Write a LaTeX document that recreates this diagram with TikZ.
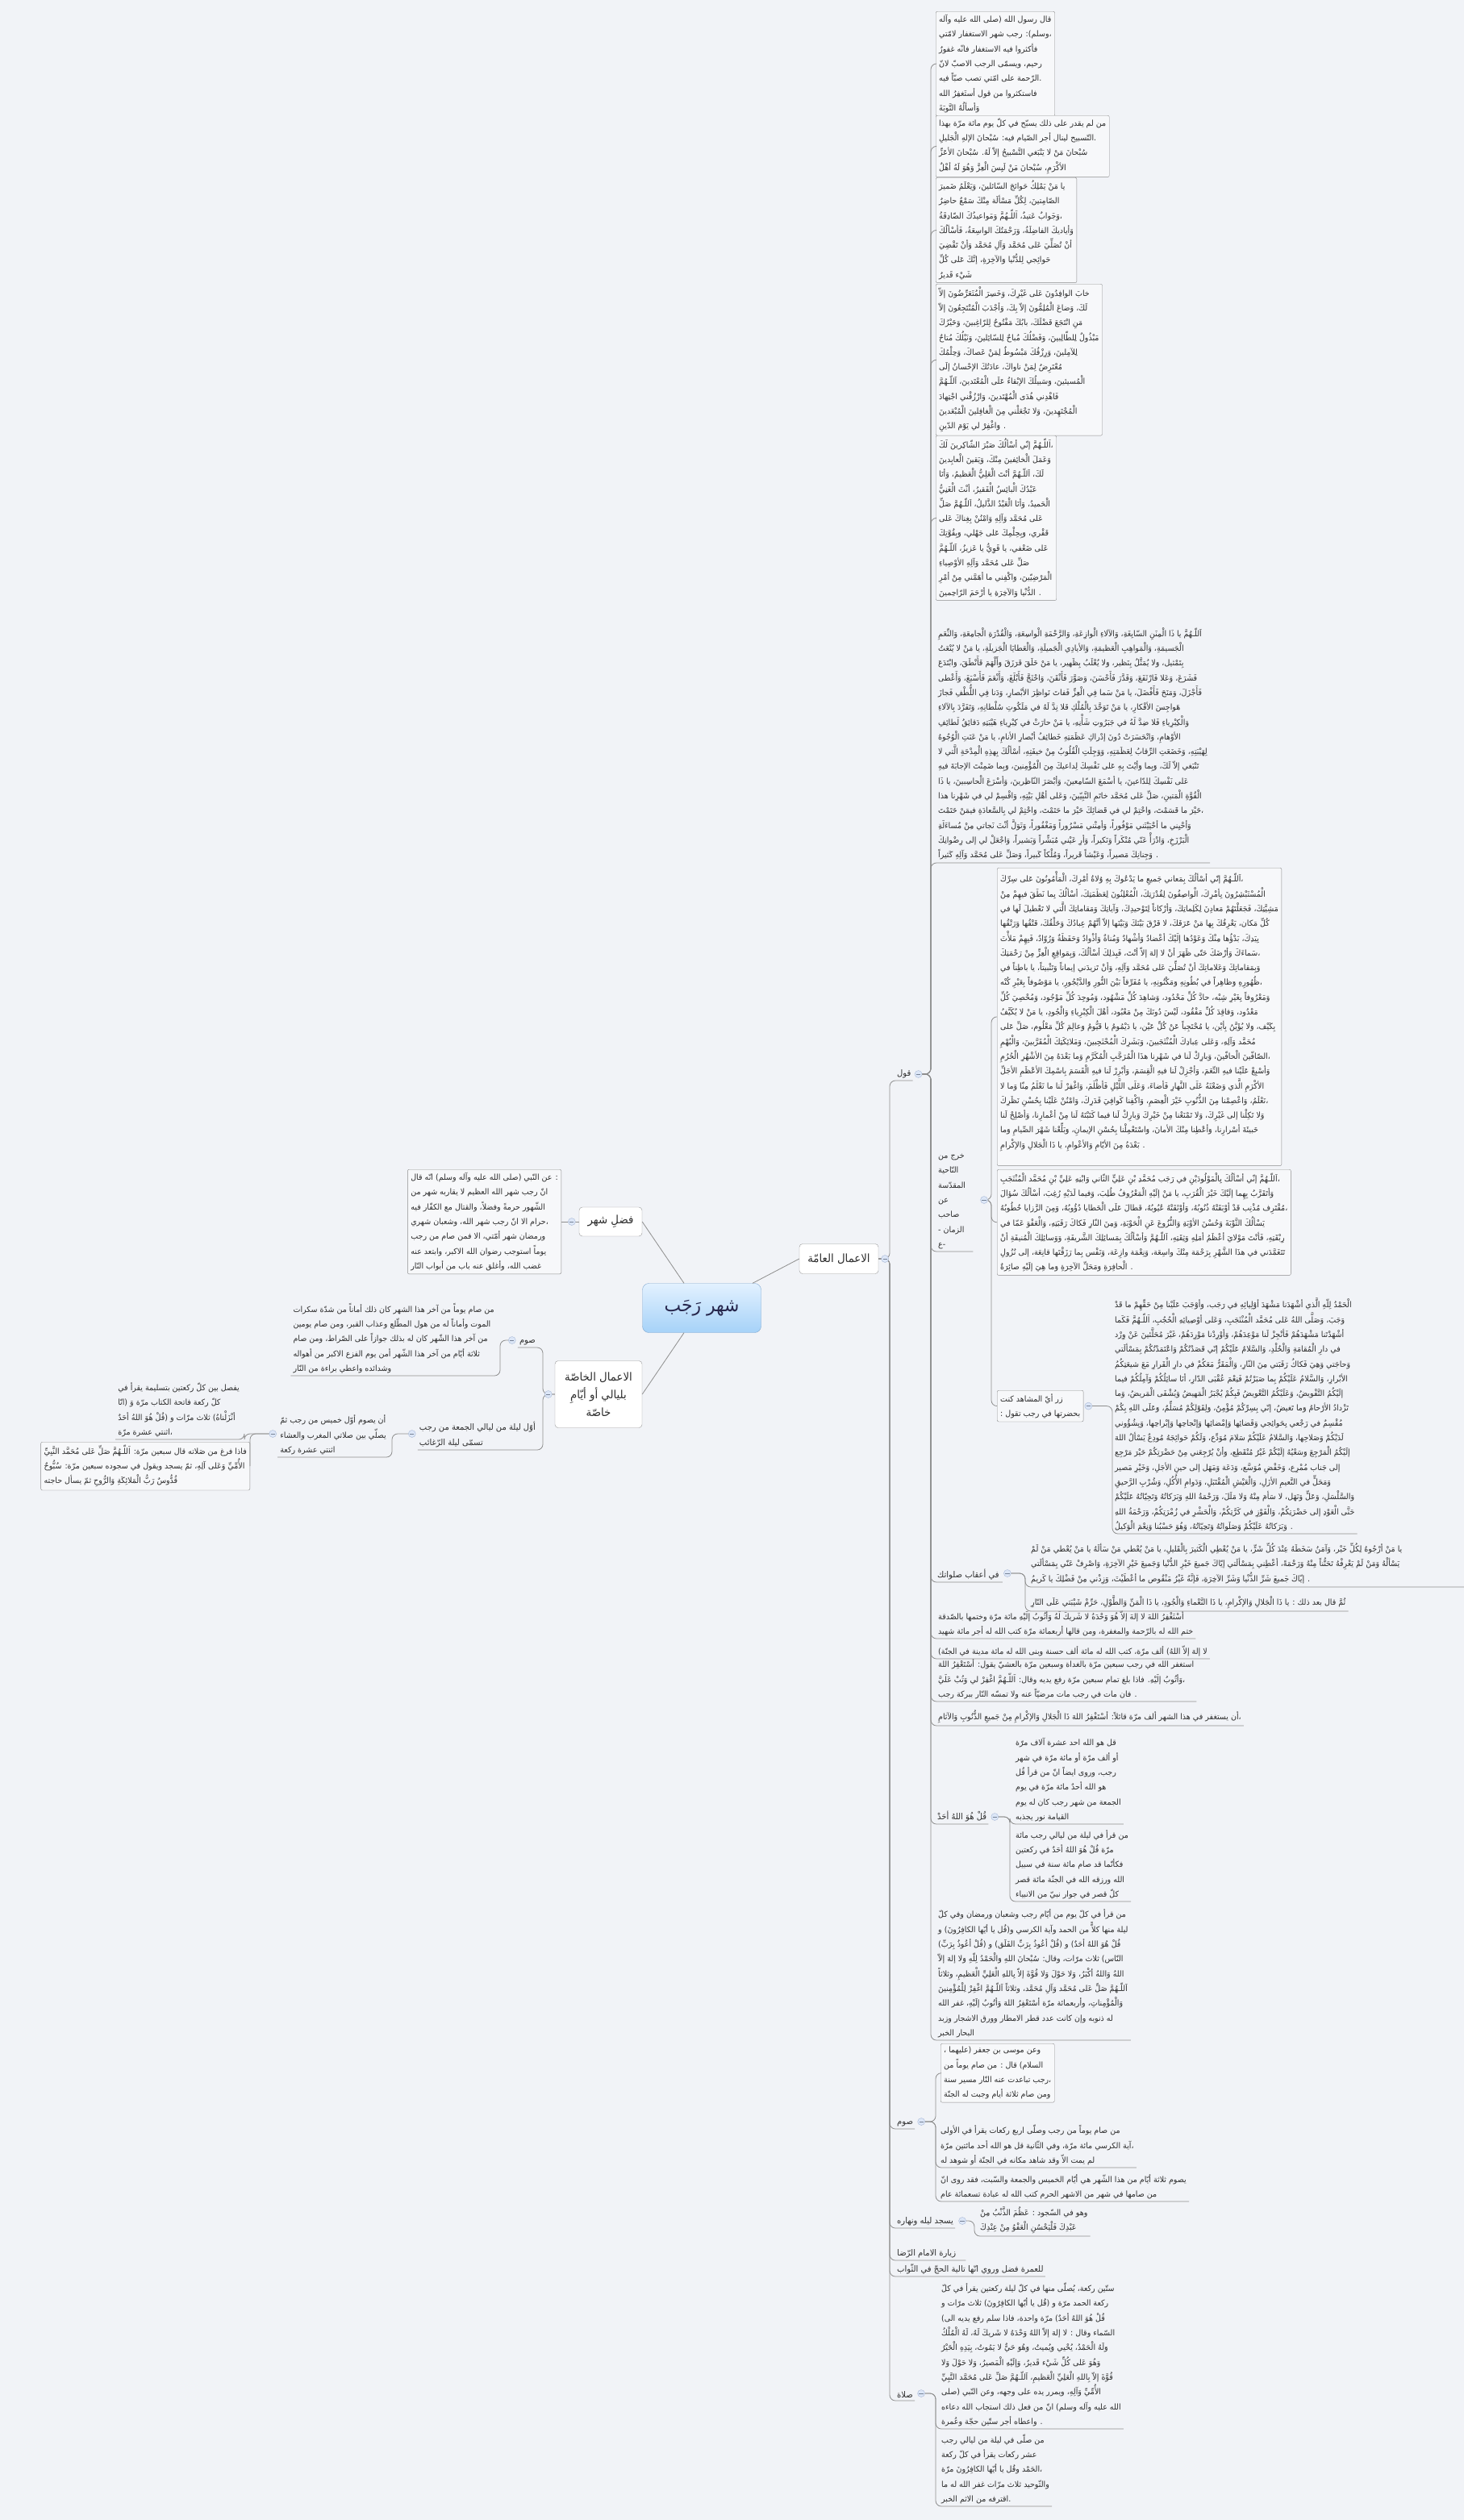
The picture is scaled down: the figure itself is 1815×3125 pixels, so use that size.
\documentclass[tikz,border=0pt]{standalone}
\usepackage{fontspec}
\newfontfamily\arabicfont[Script=Arabic,FakeStretch=0.95]{DejaVu Sans}
\TeXXeTstate=1
\newcommand{\ar}[1]{\beginR#1\endR}
\definecolor{bgc}{HTML}{F1F3F7}
\definecolor{lnc}{HTML}{8E8E8E}
\definecolor{txc}{HTML}{2E2E2E}
\definecolor{boxd}{HTML}{8A8A8A}
\definecolor{boxf}{HTML}{F7F8FA}
\definecolor{maind}{HTML}{9A9A9A}
\definecolor{rootd}{HTML}{7FA6CE}
\definecolor{roott}{HTML}{E2F1FF}
\definecolor{rootb}{HTML}{A6D2F8}
\definecolor{knd}{HTML}{A9B9D6}
\definecolor{knf}{HTML}{DCE6F7}

\begin{document}
\begin{tikzpicture}[
        x=1pt, y=-1pt,
        txt/.style={
            font=\arabicfont\fontsize{10}{18.3}\selectfont,
            text=txc,
            align=left,
            inner xsep=3,
            inner ysep=3
        },
        box/.style={
            txt,
            draw=boxd,
            fill=boxf,
            rounded corners=2,
            inner xsep=4,
            inner ysep=4
        },
        lbl/.style={
            txt,
            font=\arabicfont\fontsize{10.5}{18.3}\selectfont,
            inner xsep=2
        },
        topic/.style={
            draw=maind,
            fill=white,
            rounded corners=4,
            font=\arabicfont\fontsize{14}{22}\selectfont,
            text=txc,
            align=center,
            inner sep=0
        },
        conn/.style={
            draw=lnc,
            line width=0.8,
            rounded corners=7
        },
        knob/.style={
            circle,
            draw=knd,
            fill=knf,
            minimum size=9,
            inner sep=0,
            path picture={\draw[knd!70!black, line width=0.7]
                ([xshift=-2.6]path picture bounding box.center) --
                ([xshift=2.6]path picture bounding box.center);}
        }
    ]
        \fill[bgc] (0,0) rectangle (1815,3125);
        \useasboundingbox (0,0) rectangle (1815,3125);
        \coordinate (edgeR) at (1815,0);

        % centre
        \node (root) [draw=rootd, top color=roott, bottom color=rootb, rounded corners=8, minimum width=147, minimum height=61, font=\arabicfont\fontsize{23}{28}\selectfont, text=txc!85!blue] at (870,1622) {\ar{شهر رَجَب}};
        \node (fadl) [topic, minimum width=78, minimum height=36] at (757,1515) {\ar{فضلِ شهر}};
        \node (amma) [topic, minimum width=98, minimum height=37] at (1040,1561) {\ar{الاعمال العامّة}};
        \node (khassa) [topic, minimum width=108, minimum height=83] at (742,1729) {\ar{الاعمال الخاصّة}\\\ar{بليالي أو أيّامِ}\\\ar{خاصّة}};

        % left side
        \node (nabi) [box, anchor=east] at (696,1515) {\ar{: عن النّبي (صلى الله عليه وآله وسلم) انّه قال}\\\ar{انّ رجب شهر الله العظيم لا يقاربه شهر من}\\\ar{الشّهور حرمةً وفضلاً، والقتال مع الكفّار فيه}\\\ar{،حرام الا انّ رجب شهر الله، وشعبان شهري}\\\ar{ورمضان شهر أمّتي، الا فمن صام من رجب}\\\ar{يوماً استوجب رضوان الله الاكبر، وابتعد عنه}\\\ar{غضب الله، وأغلق عنه باب من أبواب النّار}};
        \node (sawmL) [lbl, anchor=south east] at (666,1671) {\ar{صوم}};
        \node (sawmLt) [txt, anchor=south east] at (616,1706) {\ar{من صام يوماً من آخر هذا الشهر كان ذلك أماناً من شدّة سكرات}\\\ar{الموت وأماناً له من هول المطّلع وعذاب القبر، ومن صام يومين}\\\ar{من آخر هذا الشّهر كان له بذلك جوازاً على الصّراط، ومن صام}\\\ar{ثلاثة أيّام من آخر هذا الشّهر أمن يوم الفزع الاكبر من أهواله}\\\ar{وشدائده واعطي براءة من النّار}};
        \node (layla) [lbl, anchor=south east] at (666,1798) {\ar{أوّل ليلة من ليالي الجمعة من رجب}\\\ar{تسمّى ليلة الرّغائب}};
        \node (yasum) [txt, anchor=south east] at (482,1807) {\ar{أن يصوم أوّل خميس من رجب ثمّ}\\\ar{يصلّي بين صلاتي المغرب والعشاء}\\\ar{اثنتي عشرة ركعة}};
        \node (yafsil) [txt, anchor=south east] at (300,1785) {\ar{يفصل بين كلّ ركعتين بتسليمة يقرأ في}\\\ar{كلّ ركعة فاتحة الكتاب مرّة وَ (انّا}\\\ar{أنْزَلْناهُ) ثلاث مرّات و (قُلْ هُوَ اللهُ أحَدٌ}\\\ar{،اثنتي عشرة مرّة}};
        \node (faidha) [box, anchor=north east] at (310,1788) {\ar{فاذا فرغ من صَلاته قال سبعين مرّة: اَللّـهُمَّ صَلِّ عَلى مُحَمَّد النَّبِيِّ}\\\ar{الأُمِّيِّ وَعَلى آلِهِ، ثمّ يسجد ويقول في سجوده سبعين مرّة: سُبُّوحٌ}\\\ar{قُدُّوسٌ رَبُّ الْمَلائِكَةِ وَالرُّوحِ ثمّ يسأل حاجته}};

        % right trunk labels
        \node (qawl) [lbl, anchor=south west] at (1110,1340) {\ar{قول}};
        \node (sawmR) [lbl, anchor=south west] at (1110,2640) {\ar{صوم}};
        \node (sujud) [lbl, anchor=south west] at (1110,2763) {\ar{يسجد ليله ونهاره}};
        \node (ziyara) [lbl, anchor=south west] at (1110,2803) {\ar{زيارة الامام الرّضا}};
        \node (umra) [lbl, anchor=south west] at (1110,2823) {\ar{للعمرة  فضل وروي انّها تالية الحجّ في الثّواب}};
        \node (salat) [lbl, anchor=south west] at (1110,2977) {\ar{صلاة}};

        % qawl
        \node (hadith) [box, anchor=north west] at (1160,14) {\ar{قال رسول الله (صلى الله عليه وآله}\\\ar{،وسلم): رجب شهر الاستغفار لامّتي}\\\ar{فأكثروا فيه الاستغفار فانّه غفورٌ}\\\ar{رحيم، ويسمّى الرجب الاصبّ لانّ}\\\ar{.الرّحمة على امّتي تصب صبّاً فيه}\\\ar{فاستكثروا من قول أستَغفِرُ الله}\\\ar{وَأسألُهُ التَّوبَةَ}};
        \node (tasbih) [box, anchor=north west] at (1160,143) {\ar{من لم يقدر على ذلك يسبّح في كلّ يوم مائة مرّة بهذا}\\\ar{.التّسبيح لينال أجر الصّيام فيه: سُبْحانَ الإلهِ الْجَليلِ}\\\ar{سُبْحانَ مَنْ لا يَنْبَغي التَّسْبيحُ إلاّ لَهُ. سُبْحانَ الأعَزِّ}\\\ar{الأكْرَمِ، سُبْحانَ مَنْ لَبِسَ الْعِزَّ وَهُوَ لَهُ أهْلٌ}};
        \node (yaman) [box, anchor=north west] at (1160,220) {\ar{يا مَنْ يَمْلِكُ حَوائجَ السّائلينَ، وَيَعْلَمُ ضَميرَ}\\\ar{الصّامِتينَ، لِكُلِّ مَسْألَة مِنْكَ سَمْعٌ حاضِرٌ}\\\ar{،وَجَوابٌ عَتيدٌ، اَللّـهُمَّ وَمَواعيدُكَ الصّادِقَةُ}\\\ar{وَأياديكَ الفاضِلَةُ، وَرَحْمَتُكَ الواسِعَةُ، فَأسْألُكَ}\\\ar{أنْ تُصَلِّيَ عَلى مُحَمَّد وَآلِ مُحَمَّد وَأنْ تَقْضِيَ}\\\ar{حَوائِجي لِلدُّنْيا وَالآخِرَةِ، إنَّكَ عَلى كُلِّ}\\\ar{شَيْء قَديرٌ}};
        \node (khaba) [box, anchor=north west] at (1160,352) {\ar{خابَ الوافِدُونَ عَلى غَيْرِكَ، وَخَسِرَ الْمُتَعَرِّضُونَ إلاّ}\\\ar{لَكَ، وَضاعَ الْمُلِمُّونَ إلاّ بِكَ، وَأجْدَبَ الْمُنْتَجِعُونَ إلاّ}\\\ar{مَنِ انْتَجَعَ فَضْلَكَ، بابُكَ مَفْتُوحٌ لِلرّاغِبينَ، وَخَيْرُكَ}\\\ar{مَبْذُولٌ لِلطّالِبينَ، وَفَضْلُكَ مُباحٌ لِلسّائِلينَ، وَنَيْلُكَ مُتاحٌ}\\\ar{لِلآمِلينَ، وَرِزْقُكَ مَبْسُوطٌ لِمَنْ عَصاكَ، وَحِلْمُكَ}\\\ar{مُعْتَرِضٌ لِمَنْ ناواكَ، عادَتُكَ الإحْسانُ إلَى}\\\ar{الْمُسيئينَ، وَسَبيلُكَ الإبْقاءُ عَلَى الْمُعْتَدينَ، اَللّـهُمَّ}\\\ar{فَاهْدِني هُدَى الْمُهْتَدينَ، وَارْزُقْني اجْتِهادَ}\\\ar{الْمُجْتَهِدينَ، وَلا تَجْعَلْني مِنَ الْغافِلينَ الْمُبْعَدينَ}\\\ar{. وَاغْفِرْ لي يَوْمَ الدّينِ}};
        \node (sabr) [box, anchor=north west] at (1160,540) {\ar{،اَللّـهُمَّ إنّي أسْألُكَ صَبْرَ الشّاكِرينَ لَكَ}\\\ar{وَعَمَلَ الْخائِفينَ مِنْكَ، وَيَقينَ الْعابِدينَ}\\\ar{لَكَ، اَللّـهُمَّ أنْتَ الْعَلِيُّ الْعَظيمُ، وَأنَا}\\\ar{عَبْدُكَ الْبائِسُ الْفَقيرُ، أنْتَ الْغَنِيُّ}\\\ar{الْحَميدُ، وَأنَا الْعَبْدُ الذَّليلُ، اَللّـهُمَّ صَلِّ}\\\ar{عَلى مُحَمَّد وَآلِهِ وَامْنُنْ بِغِناكَ عَلى}\\\ar{فَقْري، وَبِحِلْمِكَ عَلى جَهْلي، وَبِقُوَّتِكَ}\\\ar{عَلى ضَعْفي، يا قَوِيُّ يا عَزيزُ، اَللّـهُمَّ}\\\ar{صَلِّ عَلى مُحَمَّد وَآلِهِ الأوْصِياءِ}\\\ar{الْمَرْضِيّينَ، وَاكْفِني ما أهَمَّني مِنْ أمْرِ}\\\ar{. الدُّنْيا وَالآخِرَةِ يا أرْحَمَ الرّاحِمينَ}};
        \node (minan) [txt, anchor=south west] at (1160,1070) {\ar{اَللّـهُمَّ يا ذَا الْمِنَنِ السّابِغَةِ، وَالآلاءِ الْوازِعَةِ، وَالرَّحْمَةِ الْواسِعَةِ، وَالْقُدْرَةِ الْجامِعَةِ، وَالنِّعَمِ}\\\ar{الْجَسيمَةِ، وَالْمَواهِبِ الْعَظيمَةِ، وَالأيادِي الْجَميلَةِ، وَالْعَطايَا الْجَزيلَةِ، يا مَنْ لا يُنْعَتُ}\\\ar{بِتَمْثيل، وَلا يُمَثَّلُ بِنَظير، وَلا يُغْلَبُ بِظَهير، يا مَنْ خَلَقَ فَرَزَقَ وَأَلْهَمَ فَأَنْطَقَ، وَابْتَدَعَ}\\\ar{فَشَرَعَ، وَعَلا فَارْتَفَعَ، وَقَدَّرَ فَأَحْسَنَ، وَصَوَّرَ فَأَتْقَنَ، وَاحْتَجَّ فَأَبْلَغَ، وَأَنْعَمَ فَأَسْبَغَ، وَأَعْطى}\\\ar{فَأَجْزَلَ، وَمَنَحَ فَأَفْضَلَ، يا مَنْ سَما فِي الْعِزِّ فَفاتَ نَواظِرَ الأبْصارِ، وَدَنا فِي اللُّطْفِ فَجازَ}\\\ar{هَواجِسَ الأفْكارِ، يا مَنْ تَوَحَّدَ بِالْمُلْكِ فَلا نِدَّ لَهُ في مَلَكُوتِ سُلْطانِهِ، وَتَفَرَّدَ بِالآلاءِ}\\\ar{وَالْكِبْرِياءِ فَلا ضِدَّ لَهُ في جَبَرُوتِ شَأْنِهِ، يا مَنْ حارَتْ في كِبْرِياءِ هَيْبَتِهِ دَقائِقُ لَطائِفِ}\\\ar{الأوْهامِ، وَانْحَسَرَتْ دُونَ إدْراكِ عَظَمَتِهِ خَطائِفُ أبْصارِ الأنامِ، يا مَنْ عَنَتِ الْوُجُوهُ}\\\ar{لِهَيْبَتِهِ، وَخَضَعَتِ الرِّقابُ لِعَظَمَتِهِ، وَوَجِلَتِ الْقُلُوبُ مِنْ خيفَتِهِ، أسْألُكَ بِهذِهِ الْمِدْحَةِ الَّتي لا}\\\ar{تَنْبَغي إلاّ لَكَ، وَبِما وَأيْتَ بِهِ عَلى نَفْسِكَ لِداعيكَ مِنَ الْمُؤْمِنينَ، وَبِما ضَمِنْتَ الإجابَةَ فيهِ}\\\ar{عَلى نَفْسِكَ لِلدّاعينَ، يا أسْمَعَ السّامِعينَ، وَأبْصَرَ النّاظِرينَ، وَأسْرَعَ الْحاسِبينَ، يا ذَا}\\\ar{الْقُوَّةِ الْمَتينِ، صَلِّ عَلى مُحَمَّد خاتَمِ النَّبِيّينَ، وَعَلى أهْلِ بَيْتِهِ، وَاقْسِمْ لي في شَهْرِنا هذا}\\\ar{،خَيْرَ ما قَسَمْتَ، وَاحْتِمْ لي في قَضائِكَ خَيْرَ ما حَتَمْتَ، وَاخْتِمْ لي بِالسَّعادَةِ فيمَنْ خَتَمْتَ}\\\ar{وَأحْيِني ما أحْيَيْتَني مَوْفُوراً، وَأمِتْني مَسْرُوراً وَمَغْفُوراً، وَتَوَلَّ أنْتَ نَجاتي مِنْ مُساءَلَةِ}\\\ar{الْبَرْزَخِ، وَادْرَأْ عَنّي مُنْكَراً وَنَكيراً، وَأرِ عَيْني مُبَشِّراً وَبَشيراً، وَاجْعَلْ لي إلى رِضْوانِكَ}\\\ar{. وَجِنانِكَ مَصيراً، وَعَيْشاً قَريراً، وَمُلْكاً كَبيراً، وَصَلِّ عَلى مُحَمَّد وَآلِهِ كَثيراً}};
        \node (kharaj) [txt, anchor=south west] at (1160,1552) {\ar{خرج من}\\\ar{النّاحية}\\\ar{المقدّسة}\\\ar{عن}\\\ar{صاحب}\\\ar{الزمان -}\\\ar{-ع}};
        \node (mani) [box, anchor=north west] at (1236,1076) {\ar{،اَللّـهُمَّ إنّي أسْألُكَ بِمَعاني جَميعِ ما يَدْعُوكَ بِهِ وُلاةُ أمْرِكَ، الْمَأْمُونُونَ عَلى سِرِّكَ}\\\ar{الْمُسْتَبْشِرُونَ بِأمْرِكَ، الْواصِفُونَ لِقُدْرَتِكَ، الْمُعْلِنُونَ لِعَظَمَتِكَ، أسْألُكَ بِما نَطَقَ فيهِمْ مِنْ}\\\ar{مَشِيَّتِكَ، فَجَعَلْتَهُمْ مَعادِنَ لِكَلِماتِكَ، وَأرْكاناً لِتَوْحيدِكَ، وَآياتِكَ وَمَقاماتِكَ الَّتي لا تَعْطيلَ لَها في}\\\ar{كُلِّ مَكان، يَعْرِفُكَ بِها مَنْ عَرَفَكَ، لا فَرْقَ بَيْنَكَ وَبَيْنَها إلاّ أنَّهُمْ عِبادُكَ وَخَلْقُكَ، فَتْقُها وَرَتْقُها}\\\ar{بِيَدِكَ، بَدْؤُها مِنْكَ وَعَوْدُها إلَيْكَ أعْضادٌ وَأشْهادٌ وَمُناةٌ وَأذْوادٌ وَحَفَظَةٌ وَرُوّادٌ، فَبِهِمْ مَلأْتَ}\\\ar{،سَماءَكَ وَأرْضَكَ حَتّى ظَهَرَ أنْ لا إلهَ إلاّ أنْتَ، فَبِذلِكَ أسْألُكَ، وَبِمَواقِعِ الْعِزِّ مِنْ رَحْمَتِكَ}\\\ar{وَبِمَقاماتِكَ وَعَلاماتِكَ أنْ تُصَلِّيَ عَلى مُحَمَّد وَآلِهِ، وَأنْ تَزيدَني إيماناً وَتَثْبيتاً، يا باطِناً في}\\\ar{،ظُهُورِهِ وَظاهِراً في بُطُونِهِ وَمَكْنُونِهِ، يا مُفَرِّقاً بَيْنَ النُّورِ وَالدَّيْجُورِ، يا مَوْصُوفاً بِغَيْرِ كُنْه}\\\ar{وَمَعْرُوفاً بِغَيْرِ شِبْه، حادَّ كُلِّ مَحْدُود، وَشاهِدَ كُلِّ مَشْهُود، وَمُوجِدَ كُلِّ مَوْجُود، وَمُحْصِيَ كُلِّ}\\\ar{مَعْدُود، وَفاقِدَ كُلِّ مَفْقُود، لَيْسَ دُونَكَ مِنْ مَعْبُود، أهْلَ الْكِبْرِياءِ وَالْجُودِ، يا مَنْ لا يُكَيَّفُ}\\\ar{بِكَيْف، وَلا يُؤَيَّنُ بِأيْن، يا مُحْتَجِباً عَنْ كُلِّ عَيْن، يا دَيْمُومُ يا قَيُّومُ وَعالِمَ كُلِّ مَعْلُوم، صَلِّ عَلى}\\\ar{مُحَمَّد وَآلِهِ، وَعَلى عِبادِكَ الْمُنْتَجَبينَ، وَبَشَرِكَ الْمُحْتَجِبينَ، وَمَلائِكَتِكَ الْمُقَرَّبينَ، وَالْبُهْمِ}\\\ar{،الصّافّينَ الْحافّينَ، وَبارِكْ لَنا في شَهْرِنا هذَا الْمُرَجَّبِ الْمُكَرَّمِ وَما بَعْدَهُ مِنَ الأشْهُرِ الْحُرُمِ}\\\ar{وَأسْبِغْ عَلَيْنا فيهِ النِّعَمَ، وَأجْزِلْ لَنا فيهِ الْقِسَمَ، وَأبْرِرْ لَنا فيهِ الْقَسَمَ بِاسْمِكَ الأعْظَمِ الأجَلِّ}\\\ar{الأكْرَمِ الَّذي وَضَعْتَهُ عَلَى النَّهارِ فَأضاءَ، وَعَلَى اللَّيْلِ فَأظْلَمَ، وَاغْفِرْ لَنا ما تَعْلَمُ مِنّا وَما لا}\\\ar{،نَعْلَمُ، وَاعْصِمْنا مِنَ الذُّنُوبِ خَيْرَ الْعِصَمِ، وَاكْفِنا كَوافِيَ قَدَرِكَ، وَامْنُنْ عَلَيْنا بِحُسْنِ نَظَرِكَ}\\\ar{وَلا تَكِلْنا إلى غَيْرِكَ، وَلا تَمْنَعْنا مِنْ خَيْرِكَ وَبارِكْ لَنا فيما كَتَبْتَهُ لَنا مِنْ أعْمارِنا، وَأصْلِحْ لَنا}\\\ar{خَبيئَةَ أسْرارِنا، وَأعْطِنا مِنْكَ الأمانَ، وَاسْتَعْمِلْنا بِحُسْنِ الإيمانِ، وَبَلِّغْنا شَهْرَ الصِّيامِ وَما}\\\ar{. بَعْدَهُ مِنَ الأيّامِ وَالأعْوامِ، يا ذَا الْجَلالِ وَالإكْرامِ}\\ \mbox{}};
        \node (mawlud) [box, anchor=north west] at (1236,1450) {\ar{،اَللّـهُمَّ إنّي أسْألُكَ بِالْمَوْلُودَيْنِ في رَجَب مُحَمَّدِ بْنِ عَلِيٍّ الثّاني وَابْنِهِ عَلِيِّ بْنِ مُحَمَّد الْمُنْتَجَبِ}\\\ar{وَأتَقَرَّبُ بِهِما إلَيْكَ خَيْرَ الْقُرَبِ، يا مَنْ إلَيْهِ الْمَعْرُوفُ طُلِبَ، وَفيما لَدَيْهِ رُغِبَ، أسْألُكَ سُؤالَ}\\\ar{،مُقْتَرِف مُذْنِب قَدْ أوْبَقَتْهُ ذُنُوبُهُ، وَأوْثَقَتْهُ عُيُوبُهُ، فَطالَ عَلَى الْخَطايا دُؤُوبُهُ، وَمِنَ الرَّزايا خُطُوبُهُ}\\\ar{يَسْألُكَ التَّوْبَةَ وَحُسْنَ الأوْبَةِ وَالنُّزُوعَ عَنِ الْحَوْبَةِ، وَمِنَ النّارِ فَكاكَ رَقَبَتِهِ، وَالْعَفْوَ عَمّا في}\\\ar{رِبْقَتِهِ، فَأنْتَ مَوْلايَ أعْظَمُ أمَلِهِ وَثِقَتِهِ، اَللّـهُمَّ وَأسْألُكَ بِمَسائِلِكَ الشَّريفَةِ، وَوَسائِلِكَ الْمُنيفَةِ أنْ}\\\ar{تَتَغَمَّدَني في هذَا الشَّهْرِ بِرَحْمَة مِنْكَ واسِعَة، وَنِعْمَة وازِعَة، وَنَفْس بِما رَزَقْتَها قانِعَة، إلى نُزُولِ}\\\ar{. الْحافِرَةِ وَمَحَلِّ الآخِرَةِ وَما هِيَ إلَيْهِ صائِرَةٌ}};
        \node (zar) [box, anchor=north west] at (1236,1724) {\ar{زر أيّ المشاهد كنت}\\\ar{بحضرتها في رجب تقول :}};
        \node (hamd) [txt, anchor=south west] at (1379,1902) {\ar{الْحَمْدُ لِلّهِ الَّذي أشْهَدَنا مَشْهَدَ أوْلِيائِهِ في رَجَب، وَأوْجَبَ عَلَيْنا مِنْ حَقِّهِمْ ما قَدْ}\\\ar{وَجَبَ، وَصَلَّى اللهُ عَلى مُحَمَّد الْمُنْتَجَبِ، وَعَلى أوْصِيائِهِ الْحُجُبِ، اَللّـهُمَّ فَكَما}\\\ar{أشْهَدْتَنا مَشْهَدَهُمْ فَأنْجِزْ لَنا مَوْعِدَهُمْ، وَأوْرِدْنا مَوْرِدَهُمْ، غَيْرَ مُحَلَّئينَ عَنْ وِرْد}\\\ar{في دارِ الْمُقامَةِ وَالْخُلْدِ، وَالسَّلامُ عَلَيْكُمْ إنّي قَصَدْتُكُمْ وَاعْتَمَدْتُكُمْ بِمَسْألَتي}\\\ar{وَحاجَتي وَهِيَ فَكاكُ رَقَبَتي مِنَ النّارِ، وَالْمَقَرُّ مَعَكُمْ في دارِ الْقَرارِ مَعَ شيعَتِكُمُ}\\\ar{الأبْرارِ، وَالسَّلامُ عَلَيْكُمْ بِما صَبَرْتُمْ فَنِعْمَ عُقْبَى الدّارِ، أنَا سائِلُكُمْ وَآمِلُكُمْ فيما}\\\ar{إلَيْكُمُ التَّفْويضُ، وَعَلَيْكُمُ التَّعْويضُ فَبِكُمْ يُجْبَرُ الْمَهيضُ وَيُشْفَى الْمَريضُ، وَما}\\\ar{تَزْدادُ الأرْحامُ وَما تَغيضُ، إنّي بِسِرِّكُمْ مُؤْمِنٌ، وَلِقَوْلِكُمْ مُسَلِّمٌ، وَعَلَى اللهِ بِكُمْ}\\\ar{مُقْسِمٌ في رَجْعي بِحَوائِجي وَقَضائِها وَإمْضائِها وَإنْجاحِها وَإبْراحِها، وَبِشُؤُوني}\\\ar{لَدَيْكُمْ وَصَلاحِها، وَالسَّلامُ عَلَيْكُمْ سَلامَ مُوَدِّع، وَلَكُمْ حَوائِجَهُ مُودِعٌ يَسْألُ اللهَ}\\\ar{إلَيْكُمُ الْمَرْجِعَ وَسَعْيُهُ إلَيْكُمْ غَيْرُ مُنْقَطِع، وَأنْ يُرْجِعَني مِنْ حَضْرَتِكُمْ خَيْرَ مَرْجِع}\\\ar{إلى جَناب مُمْرِع، وَخَفْضِ مُوَسَّع، وَدَعَة وَمَهَل إلى حينِ الأجَلِ، وَخَيْرِ مَصير}\\\ar{وَمَحَلٍّ في النَّعيمِ الأزَلِ، وَالْعَيْشِ الْمُقْتَبَلِ، وَدَوامِ الأُكُلِ، وَشُرْبِ الرَّحيقِ}\\\ar{وَالسَّلْسَلِ، وَعَلٍّ وَنَهَل، لا سَأمَ مِنْهُ وَلا مَلَلَ، وَرَحْمَةُ اللهِ وَبَرَكاتُهُ وَتَحِيّاتُهُ عَلَيْكُمْ}\\\ar{حَتَّى الْعَوْدِ إلى حَضْرَتِكُمْ، وَالْفَوْزِ في كَرَّتِكُمْ، وَالْحَشْرِ في زُمْرَتِكُمْ، وَرَحْمَةُ اللهِ}\\\ar{. وَبَرَكاتُهُ عَلَيْكُمْ وَصَلَواتُهُ وَتَحِيّاتُهُ، وَهُوَ حَسْبُنا وَنِعْمَ الْوَكيلُ}};
        \node (aqab) [lbl, anchor=south west] at (1160,1962) {\ar{في أعقاب صلواتك}};
        \node (arjuhu) [txt, anchor=south west] at (1275,1968) {\ar{يا مَنْ أرْجُوهُ لِكُلِّ خَيْر، وَآمَنُ سَخَطَهُ عِنْدَ كُلِّ شَرٍّ، يا مَنْ يُعْطِي الْكَثيرَ بِالْقَليلِ، يا مَنْ يُعْطي مَنْ سَألَهُ يا مَنْ يُعْطي مَنْ لَمْ}\\\ar{يَسْألْهُ وَمَنْ لَمْ يَعْرِفْهُ تَحَنُّناً مِنْهُ وَرَحْمَةً، أعْطِني بِمَسْألَتي إيّاكَ جَميعَ خَيْرِ الدُّنْيا وَجَميعَ خَيْرِ الآخِرَةِ، وَاصْرِفْ عَنّي بِمَسْألَتي}\\\ar{. إيّاكَ جَميعَ شَرِّ الدُّنْيا وَشَرِّ الآخِرَةِ، فَإنَّهُ غَيْرُ مَنْقُوص ما أعْطَيْتَ، وَزِدْني مِنْ فَضْلِكَ يا كَريمُ}};
        \node (thumma) [txt, anchor=south west] at (1275,1998) {\ar{ثُمَّ قال بعد ذلك : يا ذَا الْجَلالِ وَالإكْرامِ، يا ذَا النَّعْماءِ وَالْجُودِ، يا ذَا الْمَنِّ وَالطَّوْلِ، حَرِّمْ شَيْبَتي عَلَى النّارِ}};
        \node (istighfar) [txt, anchor=south west] at (1160,2032) {\ar{أسْتَغْفِرُ اللهَ لا إلهَ إلاّ هُوَ وَحْدَهُ لا شَريكَ لَهُ وَأتُوبُ إلَيْهِ مائة مرّة وختمها بالصّدقة}\\\ar{ختم الله له بالرّحمة والمغفرة، ومن قالها أربعمائة مرّة كتب الله له أجر مائة شهيد}};
        \node (tahlil) [txt, anchor=south west] at (1160,2057) {\ar{لا إلهَ إلاّ اللهُ) ألف مرّة، كتب الله له مائة ألف حسنة وبنى الله له مائة مدينة في الجنّة)}};
        \node (sabeen) [txt, anchor=south west] at (1160,2110) {\ar{استغفر الله في رجب سبعين مرّة بالغداة وسبعين مرّة بالعشيّ يقول: أسْتَغْفِرُ اللهَ}\\\ar{،وَأتُوبُ إلَيْهِ. فاذا بلغ تمام سبعين مرّة رفع يديه وقال: اَللّـهُمَّ اغْفِرْ لي وَتُبْ عَلَيَّ}\\\ar{. فان مات في رجب مات مرضيّاً عنه ولا تمسّه النّار ببركة رجب}};
        \node (alfmarra) [txt, anchor=south west] at (1160,2140) {\ar{،أن يستغفر في هذا الشهر ألف مرّة قائلاً: أسْتَغْفِرُ اللهَ ذَا الْجَلالِ وَالإكْرامِ مِنْ جَميعِ الذُّنُوبِ وَالآثامِ}};
        \node (ikhlas) [lbl, anchor=south west] at (1160,2262) {\ar{قُلْ هُوَ اللهُ أحَدْ}};
        \node (ikhlasa) [txt, anchor=south west] at (1256,2262) {\ar{قل هو الله احد عشرة آلاف مرّة}\\\ar{أو ألف مرّة أو مائة مرّة في شهر}\\\ar{رجب، وروى ايضاً انّ من قرأ قُل}\\\ar{هو الله أحدٌ مائة مرّة في يوم}\\\ar{الجمعة من شهر رجب كان له يوم}\\\ar{القيامة نور يجذبه}};
        \node (ikhlasb) [txt, anchor=south west] at (1256,2358) {\ar{من قرأ في ليلة من ليالي رجب مائة}\\\ar{مرّة قُلْ هُوَ اللهُ أحَدٌ في ركعتين}\\\ar{فكأنّما قد صام مائة سنة في سبيل}\\\ar{الله ورزقه الله في الجنّة مائة قصر}\\\ar{كلّ قصر في جوار نبيّ من الانبياء}};
        \node (qiraa) [txt, anchor=south west] at (1160,2530) {\ar{من قرأ في كلّ يوم من أيّام رجب وشعبان ورمضان وفي كلّ}\\\ar{ليلة منها كلاًّ من الحمد وآية الكرسي و(قُل يا أيّها الكافِرُونَ) و}\\\ar{قُلْ هُوَ اللهُ أحَدٌ) و (قُلْ أعُوذُ بِرَبِّ الفَلَق) و (قُلْ أعُوذُ بِرَبِّ)}\\\ar{النّاس) ثلاث مرّات، وقال: سُبْحانَ اللهِ وَالْحَمْدُ لِلّهِ وَلا إلهَ إلاّ}\\\ar{اللهُ وَاللهُ أكْبَرُ، وَلا حَوْلَ وَلا قُوَّةَ إلاّ بِاللهِ الْعَلِيِّ الْعَظيمِ، وثلاثاً}\\\ar{اَللّـهُمَّ صَلِّ عَلى مُحَمَّد وَآلِ مُحَمَّد، وثلاثاً اَللّـهُمَّ اغْفِرْ لِلْمُؤْمِنينَ}\\\ar{وَالْمُؤْمِناتِ، وأربعمائة مرّة أسْتَغْفِرُ اللهَ وَأتُوبُ إلَيْهِ، غفر الله}\\\ar{له ذنوبه وإن كانت عدد قطر الامطار وورق الاشجار وزبد}\\\ar{البحار الخبر}};

        % sawm, sujud, salat
        \node (musa) [box, anchor=north west] at (1166,2534) {\ar{وعن موسى بن جعفر (عليهما ،}\\\ar{السلام) قال : من صام يوماً من}\\\ar{،رجب تباعدت عنه النّار مسير سنة}\\\ar{ومن صام ثلاثة أيام وجبت له الجنّة}};
        \node (arba) [txt, anchor=south west] at (1163,2688) {\ar{من صام يوماً من رجب وصلّى اربع ركعات يقرأ في الأولى}\\\ar{،آية الكرسي مائة مرّة، وفي الثّانية قل هو الله أحد مائتين مرّة}\\\ar{لم يمت الاّ وقد شاهد مكانه في الجنّة أو شوهد له}};
        \node (thalath) [txt, anchor=south west] at (1163,2730) {\ar{يصوم ثلاثة أيّام من هذا الشّهر هي أيّام الخميس والجمعة والسّبت، فقد روى انّ}\\\ar{من صامها في شهر من الاشهر الحرم كتب الله له عبادة تسعمائة عام}};
        \node (sujuda) [txt, anchor=south west] at (1212,2773) {\ar{وهو في السّجود : عَظُمَ الذَّنْبُ مِنْ}\\\ar{عَبْدِكَ فَلْيَحْسُنِ الْعَفْوُ مِنْ عِنْدِكَ}};
        \node (salata) [txt, anchor=south west] at (1164,3012) {\ar{ستّين ركعة، يُصلّى منها في كلّ ليلة ركعتين يقرأ في كلّ}\\\ar{ركعة الحمد مرّة و (قُل يا أيّها الكافِرُونَ) ثلاث مرّات و}\\\ar{قُلْ هُوَ اللهُ أحَدٌ) مرّة واحدة، فاذا سلم رفع يديه الى)}\\\ar{السّماء وقال : لا إلهَ إلاّ اللهُ وَحْدَهُ لا شَريكَ لَهُ، لَهُ الْمُلْكُ}\\\ar{وَلَهُ الْحَمْدُ، يُحْيي وَيُميتُ، وَهُوَ حَيٌّ لا يَمُوتُ، بِيَدِهِ الْخَيْرُ}\\\ar{وَهُوَ عَلى كُلِّ شَيْء قَديرٌ، وَإلَيْهِ الْمَصيرُ، وَلا حَوْلَ وَلا}\\\ar{قُوَّةَ إلاّ بِاللهِ الْعَلِيِّ الْعَظيمِ، اَللّـهُمَّ صَلِّ عَلى مُحَمَّد النَّبِيِّ}\\\ar{الأُمِّيِّ وَآلِهِ، ويمرر يده على وجهه، وعن النّبي (صلى}\\\ar{الله عليه وآله وسلم) انّ من فعل ذلك استجاب الله دعاءه}\\\ar{. واعطاه أجر ستّين حجّة وعُمرة}};
        \node (salatb) [txt, anchor=south west] at (1164,3108) {\ar{من صلّى في ليلة من ليالي رجب}\\\ar{عشر ركعات يقرأ في كلّ ركعة}\\\ar{،الحَمْد وقُل يا أيّها الكافِرُونَ مرّة}\\\ar{والتّوحيد ثلاث مرّات غفر الله له ما}\\\ar{.اقترفه من الاثم الخبر}};

        % knob points
        \coordinate (kfadl) at ([xshift=-9]fadl.west);
        \coordinate (kamma) at ([xshift=8]amma.east);
        \coordinate (kkhassa) at ([xshift=-8]khassa.west);
        \coordinate (ksawmL) at ([xshift=-7,yshift=9]sawmL.south west);
        \coordinate (klayla) at ([xshift=-7,yshift=20]layla.south west);
        \coordinate (kyasum) at ([xshift=-6,yshift=29]yasum.south west);
        \coordinate (kqawl) at ([xshift=7,yshift=8]qawl.south east);
        \coordinate (kkharaj) at (1220,1488);
        \coordinate (kzar) at ([xshift=6]zar.east);
        \coordinate (kaqab) at ([xshift=8,yshift=11]aqab.south east);
        \coordinate (kikhlas) at ([xshift=8,yshift=9]ikhlas.south east);
        \coordinate (ksawmR) at ([xshift=8,yshift=9]sawmR.south east);
        \coordinate (ksujud) at ([xshift=9,yshift=9]sujud.south east);
        \coordinate (ksalat) at ([xshift=8,yshift=9]salat.south east);

        % connectors
        \draw [conn, rounded corners=0] ([xshift=-22]root.north) -- (fadl.east);
        \draw [conn, rounded corners=0] ([xshift=63]root.north) -- (amma.west);
        \draw [conn, rounded corners=0] ([xshift=-22]root.south) -- (khassa.east);
        \draw [conn] (fadl.west) -- (nabi.east);

        \draw [conn] (khassa.west) -| ([xshift=7]sawmL.south east) -- (sawmL.south west);
        \draw [conn] (khassa.west) -| ([xshift=7]layla.south east) -- (layla.south west);
        \draw [conn] (ksawmL) -| ([xshift=4]sawmLt.south east) -- (sawmLt.south west);
        \draw [conn] (klayla) -| ([xshift=4]yasum.south east) -- (yasum.south west);
        \draw [conn] (kyasum) -| ([xshift=3]yafsil.south east) -- (yafsil.south west);
        \draw [conn] (kyasum) -| (faidha.east);

        \draw [conn] (amma.east) -| ([xshift=-7]qawl.south west) -- (qawl.south east);
        \draw [conn] (amma.east) -| ([xshift=-7]sawmR.south west) -- (sawmR.south east);
        \draw [conn] (amma.east) -| ([xshift=-7]sujud.south west) -- (sujud.south east);
        \draw [conn] (amma.east) -| ([xshift=-7]ziyara.south west) -- ([xshift=10]ziyara.south east);
        \draw [conn] (amma.east) -| ([xshift=-7]umra.south west) -- (umra.south east);
        \draw [conn] (amma.east) -| ([xshift=-7]salat.south west) -- (salat.south east);

        \draw [conn] (kqawl) -| ([xshift=-6]hadith.west) -- (hadith.west);
        \draw [conn] (kqawl) -| ([xshift=-6]tasbih.west) -- (tasbih.west);
        \draw [conn] (kqawl) -| ([xshift=-6]yaman.west) -- (yaman.west);
        \draw [conn] (kqawl) -| ([xshift=-6]khaba.west) -- (khaba.west);
        \draw [conn] (kqawl) -| ([xshift=-6]sabr.west) -- (sabr.west);
        \draw [conn] (kqawl) -| ([xshift=-6]minan.south west) -- (minan.south east);
        \draw [conn] (kqawl) -| ([xshift=-6]kharaj.south west) -- ([xshift=6]kharaj.south east);
        \draw [conn] (kqawl) -| ([xshift=-6]aqab.south west) -- ([xshift=2]aqab.south east);
        \draw [conn] (kqawl) -| ([xshift=-6]istighfar.south west) -- (istighfar.south east);
        \draw [conn] (kqawl) -| ([xshift=-6]tahlil.south west) -- (tahlil.south east);
        \draw [conn] (kqawl) -| ([xshift=-6]sabeen.south west) -- (sabeen.south east);
        \draw [conn] (kqawl) -| ([xshift=-6]alfmarra.south west) -- (alfmarra.south east);
        \draw [conn] (kqawl) -| ([xshift=-6]ikhlas.south west) -- (ikhlas.south east);
        \draw [conn] (kqawl) -| ([xshift=-6]qiraa.south west) -- (qiraa.south east);

        \draw [conn] (kkharaj) -| ([xshift=-7]mani.west) -- (mani.west);
        \draw [conn] (kkharaj) -| ([xshift=-7]mawlud.west) -- (mawlud.west);
        \draw [conn] (kkharaj) -| ([xshift=-7]zar.west) -- (zar.west);
        \draw [conn] (kzar) -| (hamd.south west) -- (hamd.south east);
        \draw [conn] (kaqab) -| ([xshift=-4]arjuhu.south west) -- (arjuhu.south west -| edgeR);
        \draw [conn] (kaqab) -| ([xshift=-4]thumma.south west) -- (thumma.south east);
        \draw [conn] (kikhlas) -| ([xshift=-4]ikhlasa.south west) -- (ikhlasa.south east);
        \draw [conn] (kikhlas) -| ([xshift=-4]ikhlasb.south west) -- (ikhlasb.south east);

        \draw [conn] (ksawmR) -| ([xshift=-6]musa.west) -- (musa.west);
        \draw [conn] (ksawmR) -| ([xshift=-3]arba.south west) -- (arba.south east);
        \draw [conn] (ksawmR) -| ([xshift=-3]thalath.south west) -- (thalath.south east);
        \draw [conn] (ksujud) -| ([xshift=-4]sujuda.south west) -- (sujuda.south east);
        \draw [conn] (ksalat) -| ([xshift=-4]salata.south west) -- (salata.south east);
        \draw [conn] (ksalat) -| ([xshift=-4]salatb.south west) -- (salatb.south east);

        % collapse knobs
        \node (kn1) [knob] at (kfadl) {};
        \node (kn2) [knob] at (kamma) {};
        \node (kn3) [knob] at (kkhassa) {};
        \node (kn4) [knob] at (ksawmL) {};
        \node (kn5) [knob] at (klayla) {};
        \node (kn6) [knob] at (kyasum) {};
        \node (kn7) [knob] at (kqawl) {};
        \node (kn8) [knob] at (kkharaj) {};
        \node (kn9) [knob] at (kzar) {};
        \node (kn10) [knob] at (kaqab) {};
        \node (kn11) [knob] at (kikhlas) {};
        \node (kn12) [knob] at (ksawmR) {};
        \node (kn13) [knob] at (ksujud) {};
        \node (kn14) [knob] at (ksalat) {};
    \end{tikzpicture}
\end{document}
